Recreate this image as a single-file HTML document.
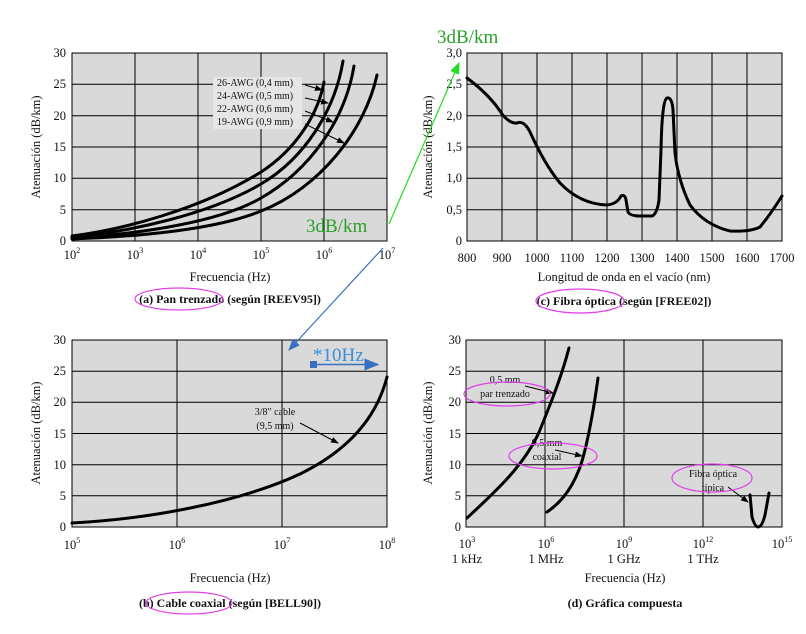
<!DOCTYPE html>
<html><head><meta charset="utf-8"><style>
body{margin:0;background:#fff}
svg{display:block;font-family:"Liberation Serif",serif}
.t{font-size:12.5px;fill:#111}
.s{font-size:10px;fill:#111}
.b{font-size:12px;font-weight:bold;fill:#111}
.g{stroke:#000;stroke-width:1}
.c{fill:none;stroke:#000;stroke-width:3;stroke-linejoin:round;stroke-linecap:round}
.e{fill:none;stroke:#e040e8;stroke-width:1.2}
.ar{stroke:#000;stroke-width:1;marker-end:url(#ah)}
</style></head><body>
<svg width="806" height="634" viewBox="0 0 806 634">
<defs>
<marker id="ah" markerWidth="8" markerHeight="6" refX="7" refY="3" orient="auto"><path d="M0,0 L8,3 L0,6z" fill="#000"/></marker>
<marker id="ag" markerWidth="10" markerHeight="8" refX="9" refY="4" orient="auto"><path d="M0,0 L10,4 L0,8z" fill="#2d2"/></marker>
<marker id="ab" markerWidth="10" markerHeight="8" refX="9" refY="4" orient="auto"><path d="M0,0 L10,4 L0,8z" fill="#3a6fc0"/></marker>
</defs>

<!-- (a) -->
<rect x="72" y="53" width="315" height="188" fill="#d9d9d9" stroke="#000"/>
<g class="g">
<line x1="135" y1="53" x2="135" y2="241"/><line x1="198" y1="53" x2="198" y2="241"/><line x1="261" y1="53" x2="261" y2="241"/><line x1="324" y1="53" x2="324" y2="241"/>
<line x1="72" y1="84.3" x2="387" y2="84.3"/><line x1="72" y1="115.7" x2="387" y2="115.7"/><line x1="72" y1="147" x2="387" y2="147"/><line x1="72" y1="178.3" x2="387" y2="178.3"/><line x1="72" y1="209.7" x2="387" y2="209.7"/>
</g>
<path class="c" d="M72,236 C120,230 200,210 261,172 C295,150 318,115 324,82"/>
<path class="c" d="M72,237 C130,232 210,214 261,184 C305,158 335,110 343,61"/>
<path class="c" d="M72,238 C140,234 220,222 261,198 C310,170 345,120 354,66"/>
<path class="c" d="M72,239 C150,236 220,228 261,211 C320,188 365,130 377,75"/>
<rect x="213" y="77" width="89" height="52" fill="#e6e6e6"/>
<g class="s"><text x="217" y="86">26-AWG (0,4 mm)</text><text x="217" y="99">24-AWG (0,5 mm)</text><text x="217" y="112">22-AWG (0,6 mm)</text><text x="217" y="125">19-AWG (0,9 mm)</text></g>
<line class="ar" x1="305" y1="85" x2="322" y2="90"/><line class="ar" x1="305" y1="98" x2="328" y2="103"/><line class="ar" x1="305" y1="111" x2="333" y2="122"/><line class="ar" x1="305" y1="124" x2="344" y2="143"/>
<g class="t" text-anchor="end"><text x="66" y="57">30</text><text x="66" y="88">25</text><text x="66" y="120">20</text><text x="66" y="151">15</text><text x="66" y="182">10</text><text x="66" y="214">5</text><text x="66" y="245">0</text></g>
<g class="t" text-anchor="middle"><text x="72" y="259">10<tspan font-size="8" dy="-6">2</tspan></text><text x="135" y="259">10<tspan font-size="8" dy="-6">3</tspan></text><text x="198" y="259">10<tspan font-size="8" dy="-6">4</tspan></text><text x="261" y="259">10<tspan font-size="8" dy="-6">5</tspan></text><text x="324" y="259">10<tspan font-size="8" dy="-6">6</tspan></text><text x="387" y="259">10<tspan font-size="8" dy="-6">7</tspan></text>
<text x="230" y="281">Frecuencia (Hz)</text></g>
<text class="t" transform="translate(40,147) rotate(-90)" text-anchor="middle">Atenuación (dB/km)</text>
<text class="b" x="230" y="303" text-anchor="middle">(a) Pan trenzado (según [REEV95])</text>
<ellipse class="e" cx="179" cy="299" rx="44" ry="11"/>
<text x="306" y="232" font-size="19" fill="#2ca02c">3dB/km</text>

<!-- (c) -->
<rect x="467" y="53" width="315" height="188" fill="#d9d9d9" stroke="#000"/>
<g class="g">
<line x1="502" y1="53" x2="502" y2="241"/><line x1="537" y1="53" x2="537" y2="241"/><line x1="572" y1="53" x2="572" y2="241"/><line x1="607" y1="53" x2="607" y2="241"/><line x1="642" y1="53" x2="642" y2="241"/><line x1="677" y1="53" x2="677" y2="241"/><line x1="712" y1="53" x2="712" y2="241"/><line x1="747" y1="53" x2="747" y2="241"/>
<line x1="467" y1="84.3" x2="782" y2="84.3"/><line x1="467" y1="115.7" x2="782" y2="115.7"/><line x1="467" y1="147" x2="782" y2="147"/><line x1="467" y1="178.3" x2="782" y2="178.3"/><line x1="467" y1="209.7" x2="782" y2="209.7"/>
</g>
<path class="c" d="M467,78 Q490,95 502,114 Q510,124 517,123 Q524,120 530,132 Q545,165 560,183 Q580,204 607,205 Q617,204 621,196 Q625,194 626,200 L628,212 Q630,216 640,216 L652,216 Q657,214 659,200 L661,150 Q662,100 667,98 Q672,97 673,110 L675,153 Q678,180 690,205 Q705,225 730,231 Q750,232 760,227 Q770,215 782,196"/>
<g class="t" text-anchor="end"><text x="462" y="57">3,0</text><text x="462" y="88">2,5</text><text x="462" y="120">2,0</text><text x="462" y="151">1,5</text><text x="462" y="182">1,0</text><text x="462" y="214">0,5</text><text x="462" y="245">0</text></g>
<g class="t" text-anchor="middle"><text x="467" y="262">800</text><text x="502" y="262">900</text><text x="537" y="262">1000</text><text x="572" y="262">1100</text><text x="607" y="262">1200</text><text x="642" y="262">1300</text><text x="677" y="262">1400</text><text x="712" y="262">1500</text><text x="747" y="262">1600</text><text x="782" y="262">1700</text>
<text x="624" y="281">Longitud de onda en el vacío (nm)</text></g>
<text class="t" transform="translate(432,147) rotate(-90)" text-anchor="middle">Atenuación (dB/km)</text>
<text class="b" x="624" y="305" text-anchor="middle">(c) Fibra óptica (según [FREE02])</text>
<ellipse class="e" cx="580" cy="301" rx="44" ry="12"/>
<text x="437" y="43" font-size="19" fill="#2ca02c">3dB/km</text>
<line x1="389" y1="224" x2="459" y2="63" stroke="#2d2" stroke-width="1.2" marker-end="url(#ag)"/>

<!-- (b) -->
<rect x="72" y="340" width="315" height="187" fill="#d9d9d9" stroke="#000"/>
<g class="g">
<line x1="177" y1="340" x2="177" y2="527"/><line x1="282" y1="340" x2="282" y2="527"/>
<line x1="72" y1="371.2" x2="387" y2="371.2"/><line x1="72" y1="402.3" x2="387" y2="402.3"/><line x1="72" y1="433.5" x2="387" y2="433.5"/><line x1="72" y1="464.7" x2="387" y2="464.7"/><line x1="72" y1="495.8" x2="387" y2="495.8"/>
</g>
<path class="c" d="M72,523 C150,519 240,502 300,474 C345,452 376,420 387,377"/>
<g class="s" text-anchor="middle"><text x="275" y="415">3/8" cable</text><text x="275" y="429">(9,5 mm)</text></g>
<line class="ar" x1="300" y1="423" x2="338" y2="443"/>
<g class="t" text-anchor="end"><text x="66" y="344">30</text><text x="66" y="375">25</text><text x="66" y="406">20</text><text x="66" y="438">15</text><text x="66" y="469">10</text><text x="66" y="500">5</text><text x="66" y="531">0</text></g>
<g class="t" text-anchor="middle"><text x="72" y="549">10<tspan font-size="8" dy="-6">5</tspan></text><text x="177" y="549">10<tspan font-size="8" dy="-6">6</tspan></text><text x="282" y="549">10<tspan font-size="8" dy="-6">7</tspan></text><text x="387" y="549">10<tspan font-size="8" dy="-6">8</tspan></text>
<text x="230" y="582">Frecuencia (Hz)</text></g>
<text class="t" transform="translate(40,433) rotate(-90)" text-anchor="middle">Atenuación (dB/km)</text>
<text class="b" x="230" y="607" text-anchor="middle">(b) Cable coaxial (según [BELL90])</text>
<ellipse class="e" cx="189" cy="603" rx="43" ry="11"/>
<line x1="383" y1="248" x2="289" y2="350" stroke="#3a6fc0" stroke-width="1.2" marker-end="url(#ab)"/>
<text x="313" y="361" font-size="19" fill="#3a8fd8">*10Hz</text>
<rect x="310" y="361" width="7" height="7" fill="#3a6fc0"/>
<line x1="316" y1="364.5" x2="378" y2="364.5" stroke="#3a6fc0" stroke-width="1.5" marker-end="url(#ab)"/>

<!-- (d) -->
<rect x="466" y="340" width="316" height="187" fill="#d9d9d9" stroke="#000"/>
<g class="g">
<line x1="545" y1="340" x2="545" y2="527"/><line x1="624" y1="340" x2="624" y2="527"/><line x1="703" y1="340" x2="703" y2="527"/>
<line x1="466" y1="371.2" x2="782" y2="371.2"/><line x1="466" y1="402.3" x2="782" y2="402.3"/><line x1="466" y1="433.5" x2="782" y2="433.5"/><line x1="466" y1="464.7" x2="782" y2="464.7"/><line x1="466" y1="495.8" x2="782" y2="495.8"/>
</g>
<path class="c" d="M467,518 C495,492 525,465 540,430 C552,400 562,375 569,348"/>
<path class="c" d="M547,512 C565,500 578,480 585,450 C591,425 595,400 598,378"/>
<path class="c" d="M750,495 L752,517 Q755,527 758,527 Q762,527 765,515 L769,493"/>
<g class="s" text-anchor="middle"><text x="505" y="383">0,5 mm</text><text x="505" y="397">par trenzado</text><text x="547" y="446">9,5 mm</text><text x="547" y="460">coaxial</text><text x="713" y="477">Fibra óptica</text><text x="713" y="491">típica</text></g>
<line class="ar" x1="525" y1="386" x2="553" y2="393"/><line class="ar" x1="555" y1="450" x2="582" y2="456"/><line class="ar" x1="728" y1="487" x2="748" y2="502"/>
<ellipse class="e" cx="507" cy="394" rx="43" ry="12"/><ellipse class="e" cx="553" cy="456" rx="44" ry="13"/><ellipse class="e" cx="712" cy="478" rx="40" ry="14"/>
<g class="t" text-anchor="end"><text x="461" y="344">30</text><text x="461" y="375">25</text><text x="461" y="406">20</text><text x="461" y="438">15</text><text x="461" y="469">10</text><text x="461" y="500">5</text><text x="461" y="531">0</text></g>
<g class="t" text-anchor="middle"><text x="467" y="548">10<tspan font-size="8" dy="-6">3</tspan></text><text x="546" y="548">10<tspan font-size="8" dy="-6">6</tspan></text><text x="624" y="548">10<tspan font-size="8" dy="-6">9</tspan></text><text x="703" y="548">10<tspan font-size="8" dy="-6">12</tspan></text><text x="782" y="548">10<tspan font-size="8" dy="-6">15</tspan></text>
<text x="467" y="563">1 kHz</text><text x="546" y="563">1 MHz</text><text x="624" y="563">1 GHz</text><text x="703" y="563">1 THz</text>
<text x="625" y="582">Frecuencia (Hz)</text></g>
<text class="t" transform="translate(432,433) rotate(-90)" text-anchor="middle">Atenuación (dB/km)</text>
<text class="b" x="625" y="607" text-anchor="middle">(d) Gráfica compuesta</text>
</svg>
</body></html>
